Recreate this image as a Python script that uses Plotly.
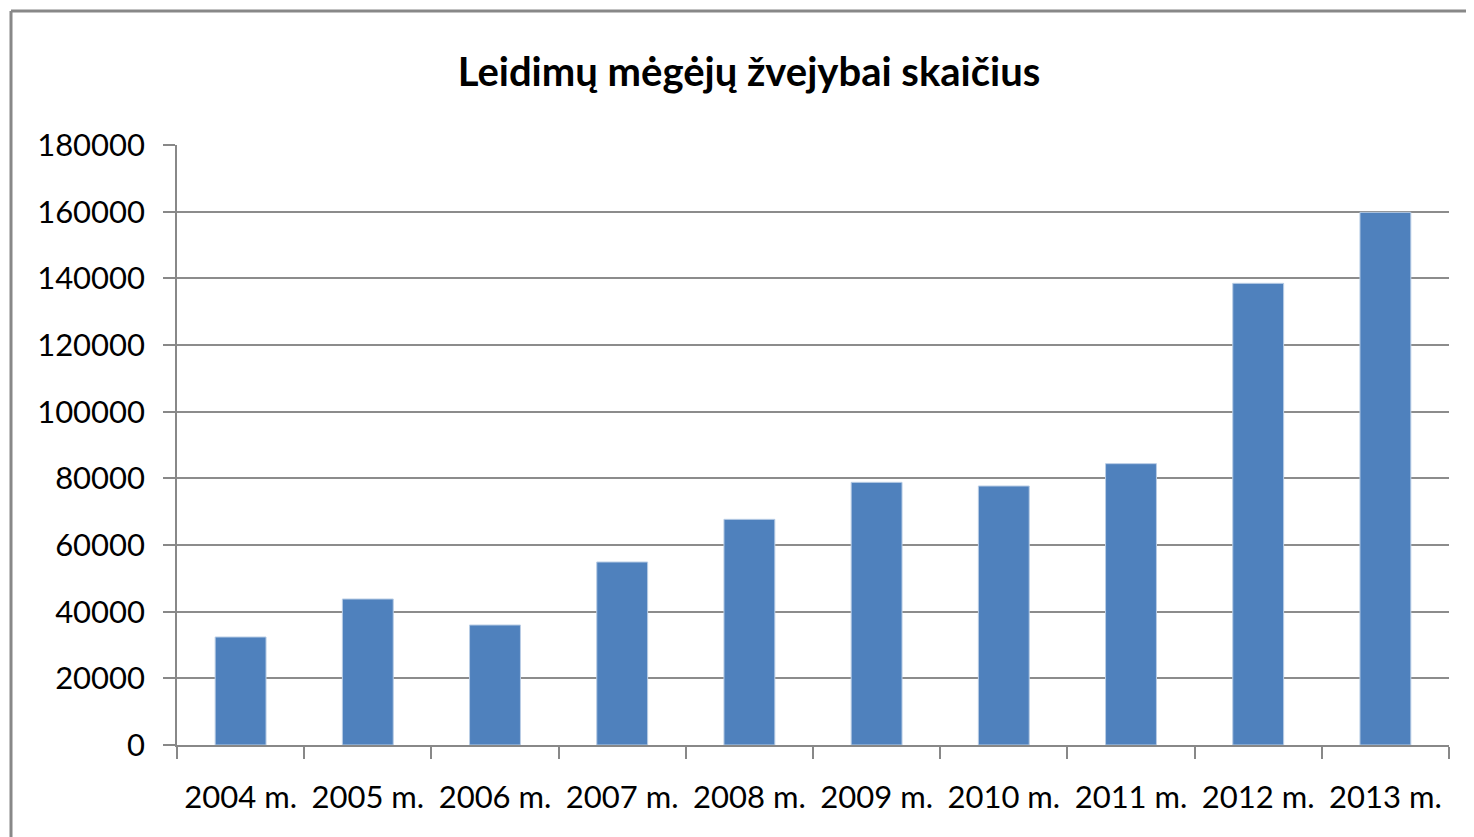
import plotly.graph_objects as go

years = ["2004 m.", "2005 m.", "2006 m.", "2007 m.", "2008 m.",
         "2009 m.", "2010 m.", "2011 m.", "2012 m.", "2013 m."]
permits = [32400, 43800, 36000, 54900, 67700, 78800, 77700, 84400, 138500, 159800]
y_ticks = [0, 20000, 40000, 60000, 80000, 100000, 120000, 140000, 160000, 180000]

font_family = "Lato, 'Open Sans', sans-serif"

# page body has an 8px margin, so layout is expressed in figure coordinates
L, T, PW, PH = 169, 137, 1272, 600

fig = go.Figure(go.Bar(
    x=years, y=permits,
    marker=dict(color="#4F81BD", line=dict(color="#B9CDE5", width=1)),
))

fig.update_layout(
    width=1474, height=837,
    margin=dict(l=L, r=1474 - L - PW, t=T, b=837 - T - PH),
    paper_bgcolor="white", plot_bgcolor="white",
    bargap=0.6,
    showlegend=False,
    title=dict(text="<b>Leidimų mėgėjų žvejybai skaičius</b>",
               xref="paper", x=(741 - L) / PW, xanchor="center",
               yref="container", y=1 - 64 / 837, yanchor="middle",
               font=dict(family=font_family, size=40, color="#000000")),
    font=dict(family=font_family, color="#000000"),
)

def px_x(x):
    return (x - L) / PW

def px_y(y):
    return (T + PH - y) / PH

# Outer chart border (cut off at right/bottom as in the reference)
fig.add_shape(type="line", xref="paper", yref="paper",
              x0=px_x(3), x1=px_x(1480), y0=px_y(3), y1=px_y(3),
              line=dict(color="#888888", width=3))
fig.add_shape(type="line", xref="paper", yref="paper",
              x0=px_x(3), x1=px_x(3), y0=px_y(3), y1=px_y(840),
              line=dict(color="#888888", width=3))

fig.update_xaxes(
    showline=True, linecolor="#888888", linewidth=1.5,
    ticks="outside", tickson="boundaries", ticklen=12,
    tickcolor="#888888", tickwidth=1.5,
    tickfont=dict(size=31, family=font_family, color="#000000"),
    ticklabelstandoff=24,
    showgrid=False,
)
fig.update_yaxes(
    range=[0, 180000], tickvals=y_ticks, tickformat="d",
    showline=True, linecolor="#888888", linewidth=1.5,
    ticks="outside", ticklen=12, tickcolor="#888888", tickwidth=1.5,
    showgrid=True, gridcolor="#8c8c8c", gridwidth=1.5,
    zeroline=False,
    tickfont=dict(size=31, family=font_family, color="#000000"),
    ticklabelstandoff=12,
)

fig.write_html("out.html")
